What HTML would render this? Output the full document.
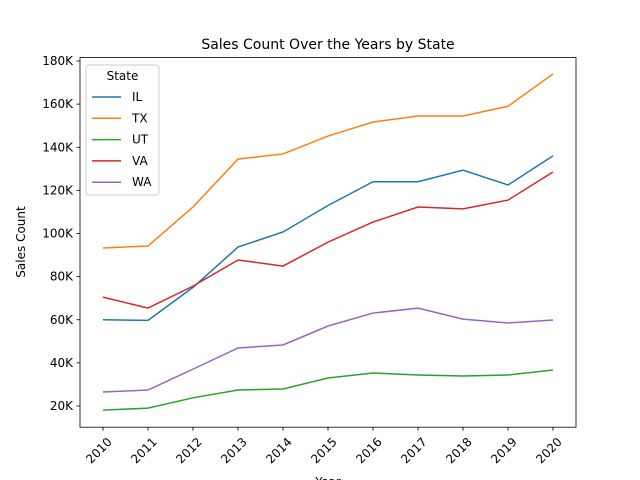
<!DOCTYPE html>
<html><head><meta charset="utf-8"><style>
body{margin:0;background:#fff}
svg{display:block;font-family:"DejaVu Sans","Liberation Sans",sans-serif}
</style></head><body>
<svg id="chart" width="640" height="480">
<rect width="640" height="480" fill="#fff"/>
<text x="328" y="49" text-anchor="middle" font-size="14">Sales Count Over the Years by State</text>
<g id="grid"></g>
<g id="series"></g>
<rect x="80" y="57.6" width="496" height="369.6" fill="none" stroke="#000" stroke-width="0.8"/>
<text x="0" y="0" transform="translate(25,242) rotate(-90)" text-anchor="middle" font-size="12">Sales Count</text>
<text x="328" y="486" text-anchor="middle" font-size="12">Year</text>
<g id="legend"></g>
</svg>
<script>
const years=[2010,2011,2012,2013,2014,2015,2016,2017,2018,2019,2020];
const states=["IL","TX","UT","VA","WA"];
const colors=["#1f77b4","#ff7f0e","#2ca02c","#d62728","#9467bd"];
const IL=[60,59.7,75,93.7,100.7,113,124,124,129.4,122.5,136];
const TX=[93.3,94.2,112.3,134.5,136.9,145.2,151.7,154.5,154.5,159,174];
const UT=[18.1,19,23.8,27.4,27.9,33,35.3,34.4,33.9,34.4,36.7];
const VA=[70.5,65.4,75.6,87.7,84.9,96,105.3,112.3,111.4,115.5,128.5];
const WA=[26.5,27.4,37.1,46.9,48.3,57.1,63.1,65.4,60.3,58.5,59.9];
const yTicks=[20,40,60,80,100,120,140,160,180];
const yTickLabels=["20K","40K","60K","80K","100K","120K","140K","160K","180K"];
const seriesData=[IL,TX,UT,VA,WA];
const NS="http://www.w3.org/2000/svg";
const xs=y=>103+(y-2010)*45;
const ys=v=>406-(v-20)*(345/160);
function mk(t,a,p){const e=document.createElementNS(NS,t);for(const k in a)e.setAttribute(k,a[k]);p.appendChild(e);return e;}
const g=document.getElementById('grid');
yTicks.forEach((v,i)=>{const y=ys(v);
const l=mk('line',{x1:76.5,x2:80,y1:y,y2:y,stroke:'#000','stroke-width':0.8},g);


const t=mk('text',{x:73,y:y+4,'text-anchor':'end','font-size':12},g);t.textContent=yTickLabels[i];

});
years.forEach(yr=>{const x=xs(yr);
const l=mk('line',{x1:x,x2:x,y1:427.2,y2:430.7,stroke:'#000','stroke-width':0.8},g);


const t=mk('text',{transform:`translate(${x+4},${437}) rotate(-45)`,'text-anchor':'end','font-size':12,x:0,y:8},g);t.textContent=yr;

});
const s=document.getElementById('series');
seriesData.forEach((d,i)=>{const p=mk('polyline',{points:d.map((v,j)=>xs(years[j])+','+ys(v)).join(' '),fill:'none',stroke:colors[i],'stroke-width':1.5},s);

});
const lg=document.getElementById('legend');
mk('rect',{x:86,y:65,width:73,height:130,rx:3,fill:'#fff','fill-opacity':0.8,stroke:'#ccc','stroke-width':1},lg);
const tt=mk('text',{x:122.5,y:80,'text-anchor':'middle','font-size':12},lg);tt.textContent='State';
states.forEach((st,i)=>{const y=97+i*21.3;
const l=mk('line',{x1:92,x2:121,y1:y,y2:y,stroke:colors[i],'stroke-width':1.5},lg);


const t=mk('text',{x:132,y:y+4,'font-size':12},lg);t.textContent=st;

});
</script>
</body></html>
